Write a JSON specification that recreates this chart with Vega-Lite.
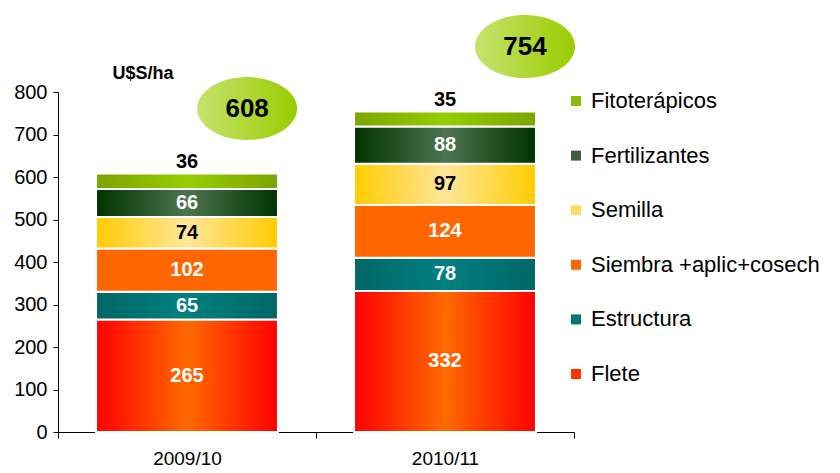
{
  "$schema": "https://vega.github.io/schema/vega-lite/v6.json",
  "width": 516,
  "height": 340,
  "autosize": {"type": "none"},
  "padding": {"left": 58, "top": 92, "right": 266, "bottom": 41},
  "config": {
    "view": {"stroke": null},
    "font": "Liberation Sans",
    "axisY": {"grid": false, "domainColor": "#000", "tickColor": "#000", "tickSize": 5, "labelFontSize": 20, "labelColor": "#000", "labelPadding": 6, "titleAngle": 0, "titleAlign": "left", "titleBaseline": "middle", "titleX": 54, "titleY": -19, "titleFontSize": 18, "titleFontWeight": "bold", "titleColor": "#000"},
    "axisX": {"tickBand": "extent", "domainColor": "#000", "tickColor": "#000", "tickSize": 6, "labelFontSize": 19, "labelColor": "#000", "labelPadding": 11, "labelAngle": 0, "title": null, "grid": false}
  },
  "data": {"values": [
    {"year": "2009/10", "item": "Flete", "ord": 1, "value": 265},
    {"year": "2009/10", "item": "Estructura", "ord": 2, "value": 65},
    {"year": "2009/10", "item": "Siembra +aplic+cosech", "ord": 3, "value": 102},
    {"year": "2009/10", "item": "Semilla", "ord": 4, "value": 74},
    {"year": "2009/10", "item": "Fertilizantes", "ord": 5, "value": 66},
    {"year": "2009/10", "item": "Fitoterápicos", "ord": 6, "value": 36},
    {"year": "2010/11", "item": "Flete", "ord": 1, "value": 332},
    {"year": "2010/11", "item": "Estructura", "ord": 2, "value": 78},
    {"year": "2010/11", "item": "Siembra +aplic+cosech", "ord": 3, "value": 124},
    {"year": "2010/11", "item": "Semilla", "ord": 4, "value": 97},
    {"year": "2010/11", "item": "Fertilizantes", "ord": 5, "value": 88},
    {"year": "2010/11", "item": "Fitoterápicos", "ord": 6, "value": 35}
  ]},
  "encoding": {
    "x": {"field": "year", "type": "nominal", "sort": null, "scale": {"paddingInner": 0, "paddingOuter": 0}}
  },
  "layer": [
    {
      "transform": [
        {"stack": "value", "groupby": ["year"], "sort": [{"field": "ord", "order": "ascending"}], "as": ["y0", "y1"]}
      ],
      "mark": {"type": "bar", "width": {"band": 0.705}, "stroke": "white", "strokeWidth": 2},
      "encoding": {
        "y": {"field": "y1", "type": "quantitative", "scale": {"domain": [0, 800]}, "axis": {"values": [0, 100, 200, 300, 400, 500, 600, 700, 800]}, "title": "U$S/ha"},
        "y2": {"field": "y0"},
        "color": {
          "field": "item", "type": "nominal",
          "scale": {
            "domain": ["Fitoterápicos", "Fertilizantes", "Semilla", "Siembra +aplic+cosech", "Estructura", "Flete"],
            "range": ["#8DBB00", "#3F5F3F", "#FFD966", "#FF6600", "#007878", "#FF3300"]
          },
          "legend": {"orient": "none", "legendX": 507, "legendY": -2, "title": null, "symbolType": "square", "symbolSize": 100, "symbolStrokeWidth": 0, "labelFontSize": 22, "labelColor": "#000", "labelLimit": 400, "rowPadding": 32.6, "labelOffset": 4, "padding": 0},
          "condition": [
            {"test": "datum.item === 'Flete'", "value": {"gradient": "linear", "x1": 0, "x2": 1, "y1": 0, "y2": 0, "stops": [{"offset": 0, "color": "#FF0000"}, {"offset": 0.5, "color": "#FF6A00"}, {"offset": 1, "color": "#FF0000"}]}},
            {"test": "datum.item === 'Estructura'", "value": {"gradient": "linear", "x1": 0, "x2": 1, "y1": 0, "y2": 0, "stops": [{"offset": 0, "color": "#006666"}, {"offset": 0.5, "color": "#008080"}, {"offset": 1, "color": "#006666"}]}},
            {"test": "datum.item === 'Siembra +aplic+cosech'", "value": "#FF6600"},
            {"test": "datum.item === 'Semilla'", "value": {"gradient": "linear", "x1": 0, "x2": 1, "y1": 0, "y2": 0, "stops": [{"offset": 0, "color": "#FFCC00"}, {"offset": 0.5, "color": "#FFE699"}, {"offset": 1, "color": "#FFCC00"}]}},
            {"test": "datum.item === 'Fertilizantes'", "value": {"gradient": "linear", "x1": 0, "x2": 1, "y1": 0, "y2": 0, "stops": [{"offset": 0, "color": "#003300"}, {"offset": 0.5, "color": "#4B7550"}, {"offset": 1, "color": "#003300"}]}},
            {"test": "datum.item === 'Fitoterápicos'", "value": {"gradient": "linear", "x1": 0, "x2": 1, "y1": 0, "y2": 0, "stops": [{"offset": 0, "color": "#7AA500"}, {"offset": 0.5, "color": "#99CC00"}, {"offset": 1, "color": "#7AA500"}]}}
          ]
        }
      }
    },
    {
      "transform": [
        {"stack": "value", "groupby": ["year"], "sort": [{"field": "ord", "order": "ascending"}], "as": ["y0", "y1"]},
        {"filter": "datum.item !== 'Fitoterápicos'"},
        {"calculate": "(datum.y0 + datum.y1) / 2", "as": "mid"}
      ],
      "mark": {"type": "text", "fontSize": 20, "fontWeight": "bold", "baseline": "middle", "align": "center"},
      "encoding": {
        "y": {"field": "mid", "type": "quantitative", "title": "U$S/ha"},
        "text": {"field": "value", "type": "quantitative"},
        "color": {"condition": {"test": "datum.item === 'Semilla'", "value": "#000000"}, "value": "#FFFFFF"}
      }
    },
    {
      "transform": [
        {"stack": "value", "groupby": ["year"], "sort": [{"field": "ord", "order": "ascending"}], "as": ["y0", "y1"]},
        {"filter": "datum.item === 'Fitoterápicos'"}
      ],
      "mark": {"type": "text", "fontSize": 20, "fontWeight": "bold", "baseline": "alphabetic", "align": "center", "dy": -6, "color": "#000000"},
      "encoding": {
        "y": {"field": "y1", "type": "quantitative", "title": "U$S/ha"},
        "text": {"field": "value", "type": "quantitative"}
      }
    },
    {
      "transform": [
        {"filter": "datum.year === '2009/10'"},
        {"aggregate": [{"op": "sum", "field": "value", "as": "total"}], "groupby": ["year"]}
      ],
      "encoding": {
        "x": {"field": "year", "type": "nominal", "sort": null, "bandPosition": 0.733},
        "y": {"field": "total", "type": "quantitative", "title": "U$S/ha"}
      },
      "layer": [
        {"mark": {"type": "point", "shape": "M -1 0 A 1 0.63 0 1 0 1 0 A 1 0.63 0 1 0 -1 0 Z", "size": 10000, "filled": true, "opacity": 1, "strokeWidth": 0, "yOffset": -65,
          "fill": {"gradient": "linear", "x1": 0, "x2": 1, "y1": 0, "y2": 0, "stops": [{"offset": 0, "color": "#C6E36E"}, {"offset": 1, "color": "#99CC00"}]}}},
        {"mark": {"type": "text", "fontSize": 26, "fontWeight": "bold", "color": "#000000", "baseline": "middle", "align": "center", "yOffset": -65},
          "encoding": {"text": {"field": "total", "type": "quantitative"}}}
      ]
    },
    {
      "transform": [
        {"filter": "datum.year === '2010/11'"},
        {"aggregate": [{"op": "sum", "field": "value", "as": "total"}], "groupby": ["year"]}
      ],
      "encoding": {
        "x": {"field": "year", "type": "nominal", "sort": null, "bandPosition": 0.81},
        "y": {"field": "total", "type": "quantitative", "title": "U$S/ha"}
      },
      "layer": [
        {"mark": {"type": "point", "shape": "M -1 0 A 1 0.63 0 1 0 1 0 A 1 0.63 0 1 0 -1 0 Z", "size": 10000, "filled": true, "opacity": 1, "strokeWidth": 0, "yOffset": -65,
          "fill": {"gradient": "linear", "x1": 0, "x2": 1, "y1": 0, "y2": 0, "stops": [{"offset": 0, "color": "#C6E36E"}, {"offset": 1, "color": "#99CC00"}]}}},
        {"mark": {"type": "text", "fontSize": 26, "fontWeight": "bold", "color": "#000000", "baseline": "middle", "align": "center", "yOffset": -65},
          "encoding": {"text": {"field": "total", "type": "quantitative"}}}
      ]
    }
  ]
}
